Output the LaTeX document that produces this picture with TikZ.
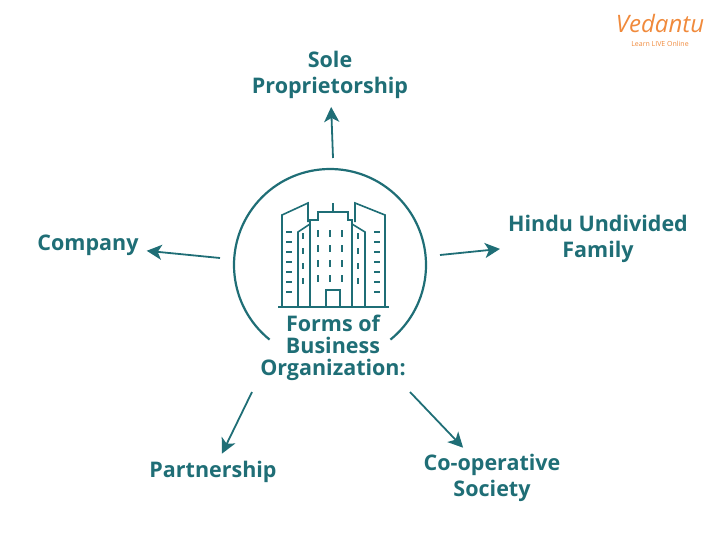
\documentclass[tikz,border=0pt]{standalone}
\usepackage{fontspec}
\setmainfont{Open Sans}
\usetikzlibrary{arrows.meta}
\definecolor{teal1}{HTML}{1F6E76}
\definecolor{vorange}{HTML}{F08A3C}
\tikzset{
  lbl/.style={text=teal1, font=\bfseries\fontsize{21.5}{26}\selectfont, align=center, inner sep=2pt},
  arr/.style={teal1, line width=1.8pt, -{Stealth[length=15pt,width=15pt,inset=4pt]}, shorten >=6pt},
  bld/.style={teal1, line width=1.6pt},
  win/.style={teal1, line width=2pt}
}
\begin{document}
\begin{tikzpicture}[x=1pt,y=-1pt]
  \useasboundingbox (0,0) rectangle (720,539);
  % logo
  \node[text=vorange, font=\itshape\fontsize{24}{24}\selectfont] (logo) at (660,23) {Vedantu};
  \node[text=vorange, font=\fontsize{7}{8}\selectfont] (tag) at (660,44) {Learn LIVE Online};
  % centre ring
  \draw[teal1, line width=2.2pt] (330,265) ++(129:96) arc[start angle=129, end angle=411, radius=96];
  % building icon
  \draw[bld] (282,307) -- (282,215) -- (308,203) -- (308,222);
  \draw[bld] (385,307) -- (385,215) -- (355,203) -- (355,222);
  \draw[bld] (298,307) -- (298,232) -- (310,224) -- (310,307);
  \draw[bld] (365,307) -- (365,232) -- (352,224) -- (352,307);
  \draw[bld] (310,307) -- (310,220) -- (318,220) -- (318,212) -- (348,212) -- (348,220) -- (352,220) -- (352,307);
  \draw[bld] (333,212) -- (333,203);
  \draw[bld] (278,307) -- (389,307);
  \draw[bld] (326,307) -- (326,290) -- (340,290) -- (340,307);
  \foreach \y in {230,245,260,275} {
    \foreach \x in {318,330,342} \draw[win] (\x,\y) -- (\x,\y+7);
    \draw[win] (303,\y+3) -- (303,\y+9);
    \draw[win] (358,\y+3) -- (358,\y+9);
  }
  \foreach \y in {232,242,252,262,272,282,292} {
    \draw[win] (286,\y) -- (292,\y);
    \draw[win] (374,\y) -- (380,\y);
  }
  % labels
  \node[lbl] (centre) at (333,348) {Forms of\\[-4pt]Business\\[-4pt]Organization:};
  \node[lbl] (sole) at (330,75) {Sole\\Proprietorship};
  \node[lbl] (comp) at (88,245) {Company};
  \node[lbl] (huf) at (598,239) {Hindu Undivided\\Family};
  \node[lbl] (part) at (213,472) {Partnership};
  \node[lbl] (coop) at (492,478) {Co-operative\\Society};
  % connectors
  \coordinate (cu) at (333,158);
  \coordinate (cl) at (220,258);
  \coordinate (cr) at (440,255);
  \coordinate (cdl) at (252,392);
  \coordinate (cdr) at (410,392);
  \draw[arr] (cu) -- (sole);
  \draw[arr] (cl) -- (comp);
  \draw[arr] (cr) -- (huf);
  \draw[arr] (cdl) -- (part);
  \draw[arr] (cdr) -- (coop);
\end{tikzpicture}
\end{document}
